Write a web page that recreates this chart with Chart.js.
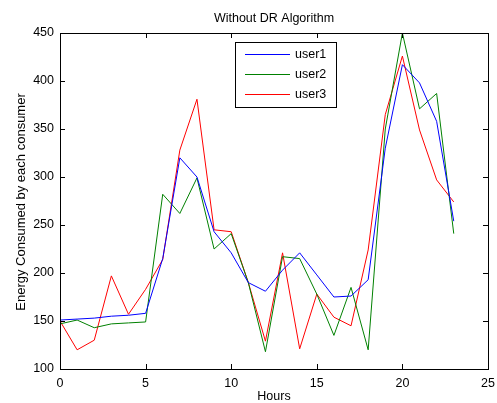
<!DOCTYPE html>
<html>
<head>
<meta charset="utf-8">
<script src="https://cdn.jsdelivr.net/npm/chart.js@4"></script>
<style>
  html, body { margin: 0; padding: 0; background: #fff; }
  #wrap { width: 497px; height: 403px; }
</style>
</head>
<body>
<div id="wrap"><canvas id="energyChart" width="497" height="403"></canvas></div>
<script>
// Hourly consumption per user
const hours = [0, 1, 2, 3, 4, 5, 6, 7, 8, 9, 10, 11, 12, 13, 14, 15, 16, 17, 18, 19, 20, 21, 22, 23];
const user1 = [151, 152, 153, 155, 156, 158, 215, 320, 300, 243, 221, 190, 181, 203, 221, 198, 175, 176, 193, 330, 417, 398, 358, 254];
const user2 = [147, 151, 143, 147, 148, 149, 282, 262, 299, 225, 241, 190, 118, 217, 215, 178, 135, 185, 120, 350, 450, 371, 387, 241];
const user3 = [150, 120, 130, 197, 157, 183, 214, 328, 381, 245, 243, 190, 129, 221, 121, 178, 154, 145, 224, 365, 426, 349, 297, 274];
const labels = ['user1', 'user2', 'user3'];
const colors = ['#0000ff', '#008000', '#ff0000'];
const xTicks = [0, 5, 10, 15, 20, 25];
const yTicks = [100, 150, 200, 250, 300, 350, 400, 450];

const font = 'Liberation Sans, Arial, sans-serif';
const fontSize = 12.5;

function toPoints(values) {
    return hours.map((h, i) => ({ x: h, y: values[i] }));
}

// Matlab-like box with inward ticks, titles and the legend inside the axes
const matlabBox = {
    id: 'matlabBox',
    afterDraw(chart) {
        const { ctx, chartArea: a, scales } = chart;
        ctx.save();
        ctx.strokeStyle = '#000';
        ctx.lineWidth = 1;
        ctx.strokeRect(Math.round(a.left) + 0.5, Math.round(a.top) + 0.5,
            Math.round(a.right - a.left), Math.round(a.bottom - a.top));
        const len = 5;
        ctx.beginPath();
        xTicks.forEach(v => {
            const px = Math.round(scales.x.getPixelForValue(v)) + 0.5;
            ctx.moveTo(px, a.bottom); ctx.lineTo(px, a.bottom - len);
            ctx.moveTo(px, a.top); ctx.lineTo(px, a.top + len);
        });
        yTicks.forEach(v => {
            const py = Math.round(scales.y.getPixelForValue(v)) + 0.5;
            ctx.moveTo(a.left, py); ctx.lineTo(a.left + len, py);
            ctx.moveTo(a.right, py); ctx.lineTo(a.right - len, py);
        });
        ctx.stroke();

        // titles
        ctx.fillStyle = '#000';
        ctx.font = fontSize + 'px ' + font;
        ctx.textAlign = 'center';
        ctx.textBaseline = 'middle';
        ctx.fillText('Without DR Algorithm', (a.left + a.right) / 2, 19);
        ctx.fillText('Hours', (a.left + a.right) / 2, 397);
        ctx.save();
        ctx.translate(21, 202);
        ctx.rotate(-Math.PI / 2);
        ctx.font = '13px ' + font;
        ctx.fillText('Energy Consumed by each consumer', 0, 0);
        ctx.restore();

        // legend
        const lx = 235, ly = 42, lw = 101, lh = 65;
        ctx.fillStyle = '#fff';
        ctx.fillRect(lx, ly, lw, lh);
        ctx.strokeStyle = '#000';
        ctx.strokeRect(lx + 0.5, ly + 0.5, lw, lh);
        ctx.textAlign = 'left';
        labels.forEach((label, i) => {
            const y = Math.round(ly + 12 + i * 20) + 0.5;
            ctx.strokeStyle = colors[i];
            ctx.beginPath();
            ctx.moveTo(lx + 10, y);
            ctx.lineTo(lx + 55, y);
            ctx.stroke();
            ctx.fillStyle = '#000';
            ctx.fillText(label, lx + 60, y);
        });
        ctx.restore();
    }
};

const ctx = document.getElementById('energyChart').getContext('2d');
const energyChart = new Chart(ctx, {
    type: 'line',
    data: {
        datasets: [
            { label: labels[0], data: toPoints(user1), borderColor: colors[0] },
            { label: labels[1], data: toPoints(user2), borderColor: colors[1] },
            { label: labels[2], data: toPoints(user3), borderColor: colors[2] }
        ]
    },
    options: {
        responsive: false,
        animation: false,
        layout: { padding: { left: 0, right: 9, top: 33, bottom: 0 } },
        elements: {
            line: { borderWidth: 1, tension: 0 },
            point: { radius: 0 }
        },
        plugins: {
            legend: { display: false },
            tooltip: { enabled: false },
            title: { display: false }
        },
        scales: {
            x: {
                type: 'linear',
                min: 0,
                max: 25,
                afterBuildTicks: s => { s.ticks = xTicks.map(v => ({ value: v })); },
                afterFit: s => { s.height = 34; },
                grid: { display: false },
                border: { display: false },
                ticks: { color: '#000', font: { family: font, size: fontSize }, padding: -1, maxRotation: 0 }
            },
            y: {
                min: 100,
                max: 450,
                afterBuildTicks: s => { s.ticks = yTicks.map(v => ({ value: v })); },
                afterFit: s => { s.width = 60; },
                grid: { display: false },
                border: { display: false },
                ticks: { color: '#000', font: { family: font, size: fontSize }, padding: -2 }
            }
        }
    },
    plugins: [matlabBox]
});
</script>
</body>
</html>
